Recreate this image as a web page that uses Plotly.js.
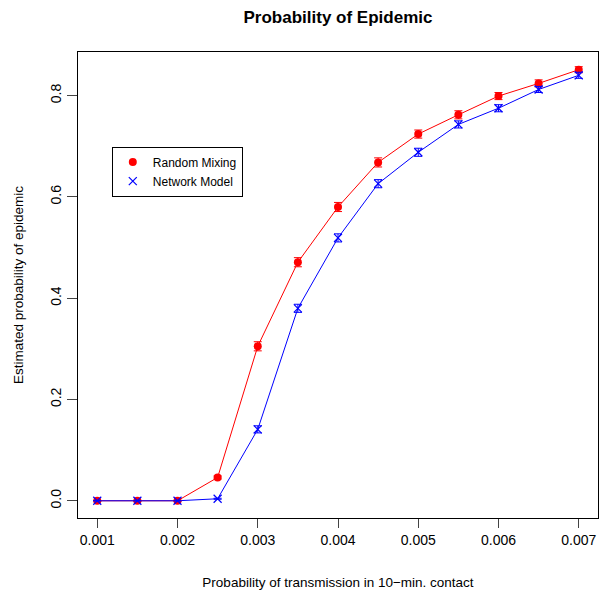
<!DOCTYPE html>
<html>
<head>
<meta charset="utf-8">
<script src="https://cdn.plot.ly/plotly-3.0.1.min.js"></script>
<style>html,body{margin:0;padding:0;background:#fff;}#chart{width:599px;height:590px;}</style>
</head>
<body>
<div id="chart"></div>
<script>
// Data
var transmissionProb = [0.001, 0.0015, 0.002, 0.0025, 0.003, 0.0035, 0.004, 0.0045, 0.005, 0.0055, 0.006, 0.0065, 0.007];
var randomMixing    = [0.000, 0.000, 0.000, 0.046, 0.305, 0.471, 0.580, 0.668, 0.724, 0.762, 0.799, 0.824, 0.851];
var randomMixingErr = [0.0005, 0.0005, 0.0005, 0.003, 0.009, 0.009, 0.009, 0.009, 0.008, 0.008, 0.007, 0.007, 0.006];
var networkModel    = [0.000, 0.000, 0.000, 0.004, 0.141, 0.380, 0.519, 0.626, 0.688, 0.743, 0.775, 0.812, 0.840];
var networkModelErr = [0.0005, 0.0005, 0.0005, 0.001, 0.007, 0.008, 0.008, 0.008, 0.008, 0.007, 0.007, 0.006, 0.006];
var seriesNames = ['Random Mixing', 'Network Model'];
var xTicks = [0.001, 0.002, 0.003, 0.004, 0.005, 0.006, 0.007];
var yTicks = [0.0, 0.2, 0.4, 0.6, 0.8];

var FONT = 'Liberation Sans, Arial, Helvetica, sans-serif';
var RED = '#FF0000', BLUE = '#0000FF';

var traces = [
  // connecting lines (no legend entry)
  {x: transmissionProb, y: randomMixing, type: 'scatter', mode: 'lines', showlegend: false,
   line: {color: RED, width: 1}, hoverinfo: 'skip'},
  {x: transmissionProb, y: networkModel, type: 'scatter', mode: 'lines', showlegend: false,
   line: {color: BLUE, width: 1}, hoverinfo: 'skip'},
  // markers + error bars (legend shows symbol only)
  {
    x: transmissionProb, y: randomMixing, name: seriesNames[0],
    type: 'scatter', mode: 'markers',
    marker: {color: RED, symbol: 'circle', size: 8},
    error_y: {type: 'data', array: randomMixingErr, visible: true, color: RED, thickness: 1, width: 4}
  },
  {
    x: transmissionProb, y: networkModel, name: seriesNames[1],
    type: 'scatter', mode: 'markers',
    marker: {color: BLUE, symbol: 'x-thin-open', size: 8, line: {color: BLUE, width: 1.2}},
    error_y: {type: 'data', array: networkModelErr, visible: true, color: BLUE, thickness: 1, width: 4}
  }
];

var layout = {
  width: 599, height: 590,
  margin: {l: 78, r: 1, t: 52, b: 72, pad: 0},
  paper_bgcolor: '#ffffff', plot_bgcolor: '#ffffff',
  font: {family: FONT, color: '#000000', size: 14},
  title: {text: '<b>Probability of Epidemic</b>', font: {family: FONT, size: 17, color: '#000'},
          x: 0.5, xref: 'paper', y: 0.971, yref: 'container', yanchor: 'middle'},
  xaxis: {
    range: [0.00076, 0.00724], tickvals: xTicks, tickformat: '.3f',
    showline: true, mirror: true, linecolor: '#000', linewidth: 1,
    ticks: 'outside', ticklen: 9, tickcolor: '#444', tickwidth: 1,
    showgrid: false, zeroline: false, automargin: false,
    tickfont: {size: 14, family: FONT},
    title: {text: 'Probability of transmission in 10\u2212min. contact', font: {size: 13.5, family: FONT}, standoff: 30}
  },
  yaxis: {
    range: [-0.034, 0.886], tickvals: yTicks, tickformat: '.1f', tickangle: -90,
    showline: true, mirror: true, linecolor: '#000', linewidth: 1,
    ticks: 'outside', ticklen: 10, tickcolor: '#444', tickwidth: 1,
    showgrid: false, zeroline: false, automargin: false,
    tickfont: {size: 14, family: FONT},
    title: {text: 'Estimated probability of epidemic', font: {size: 13.5, family: FONT}, standoff: 21}
  },
  showlegend: true,
  legend: {
    x: 0.065, y: 0.797, xanchor: 'left', yanchor: 'top',
    bgcolor: '#ffffff', bordercolor: '#000', borderwidth: 1,
    font: {size: 12, family: FONT}, tracegroupgap: 0, itemwidth: 30
  }
};

Plotly.newPlot('chart', traces, layout, {displayModeBar: false, staticPlot: true});
</script>
</body>
</html>
